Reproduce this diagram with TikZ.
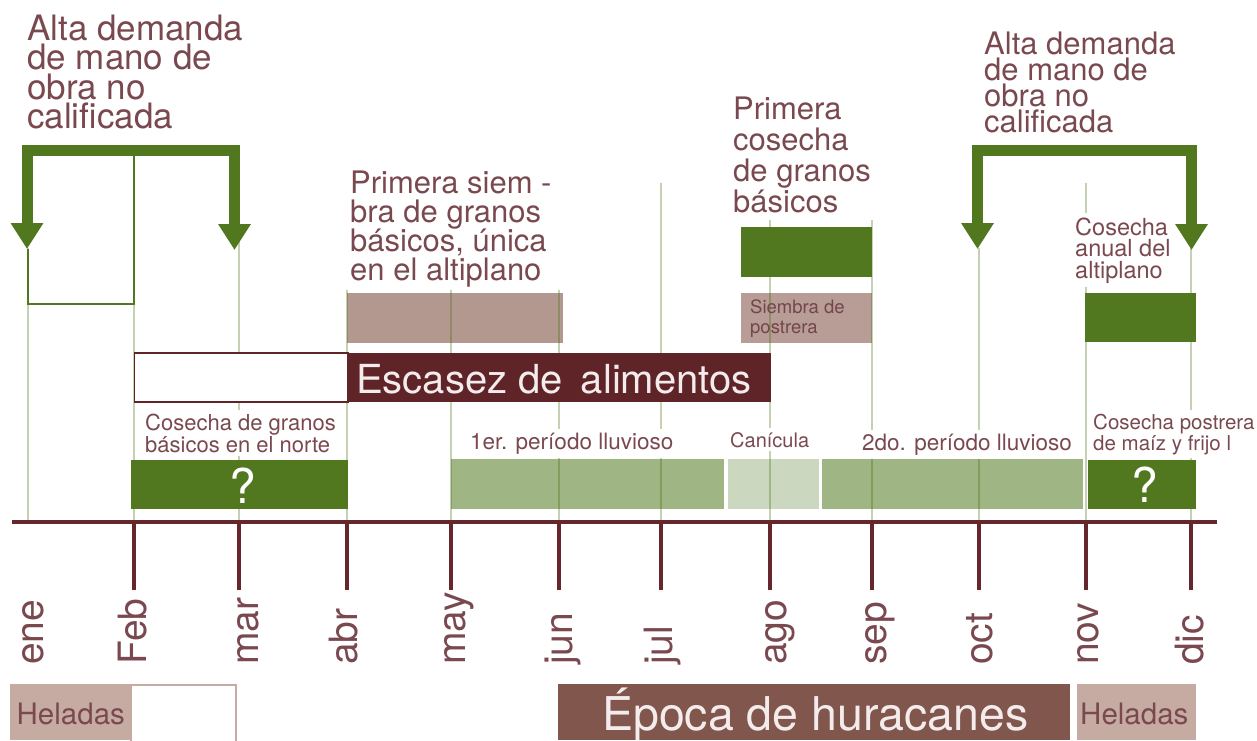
\documentclass[tikz,border=0pt]{standalone}
\usepackage{fontspec}
\setmainfont{TeX Gyre Heros}
\usetikzlibrary{arrows.meta}
\definecolor{dgreen}{HTML}{52781F}
\definecolor{lgreen}{HTML}{A0B584}
\definecolor{canic}{HTML}{CBD8BF}
\definecolor{gridc}{HTML}{3B6B02}
\definecolor{rosy}{HTML}{B39890}
\definecolor{maroonbox}{HTML}{5F2428}
\definecolor{axisc}{HTML}{65272C}
\definecolor{txt}{HTML}{7A4950}
\definecolor{hur}{HTML}{80564D}
\definecolor{hel}{HTML}{C6ABA3}
\definecolor{wtxt}{HTML}{F4ECEC}
\newcommand{\myfs}[2]{\fontsize{#1}{#2}\selectfont\lineskiplimit=-100pt\lineskip=0pt}
\begin{document}
\begin{tikzpicture}[x=1pt,y=-1pt,
  lbl/.style={inner sep=0pt, anchor=base west, align=left, text=txt},
  knock/.style={lbl, fill=white, inner xsep=1pt, inner ysep=4pt},
  gridline/.style={draw=gridc, draw opacity=0.3, line width=2pt},
  tickline/.style={draw=axisc, line width=3.5pt},
  month/.style={inner sep=0pt, anchor=base west, rotate=90, text=txt, font=\myfs{39}{39}},
  bigarrow/.style={draw=dgreen, line width=11pt, line join=miter,
    arrows={Triangle[width=31pt,length=26pt]-Triangle[width=31pt,length=26pt]}},
  qmark/.style={inner sep=0pt, anchor=base, text=white, font=\myfs{48}{48}}
]
\useasboundingbox (0,0) rectangle (1257,740);

% translucent bars
\fill[rosy] (347,293) rectangle (563,343);
\fill[rosy!95!white] (741,293) rectangle (872,343);
\fill[lgreen] (451,459) rectangle (724,509);
\fill[canic] (728,459) rectangle (819,509);
\fill[lgreen] (822,459) rectangle (1083,509);

% grid lines
\foreach \x/\ya in {28/248, 134/304, 239/183, 347/290, 451/290, 559/290, 661/183, 770/220, 872/220, 979/248, 1086/183, 1191/248}
  \draw[gridline] (\x,\ya) -- (\x,520);

% text with white knock-out (anchored at the baseline of the last line)
\node[knock, font=\myfs{22}{22}] (norte) at (144,452) {Cosecha de granos\\básicos en el norte};
\node[knock, font=\myfs{22.5}{22.5}] (lluv1) at (469,449) {1er. período lluvioso};
\node[knock, font=\myfs{20}{20}] (canicula) at (729,447) {Canícula};
\node[knock, font=\myfs{22.5}{22.5}] (lluv2) at (861,450) {2do. período lluvioso};
\node[knock, font=\myfs{20.5}{21}] (postrera) at (1092,450) {Cosecha postrera\\de maíz y frijo l};
\node[knock, font=\myfs{23.5}{21.5}] (anual) at (1074,278) {Cosecha\\anual del\\altiplano};

% opaque boxes
\fill[dgreen] (131,460) rectangle (348,509);
\fill[dgreen] (1088,460) rectangle (1196,509);
\fill[dgreen] (741,227) rectangle (872,277);
\fill[dgreen] (1085,293) rectangle (1196,342);
\filldraw[fill=white, draw=maroonbox, line width=1.5pt] (134.5,353) rectangle (348,402);
\fill[maroonbox] (348,353) rectangle (771,402);

\node[qmark] (q1) at (243,503) {?};
\node[qmark] (q2) at (1145,502) {?};
\node[lbl, text=wtxt, font=\myfs{40}{40}] (escasez) at (356,393) {Escasez de\hspace{0.45em}alimentos};
\node[lbl, text=txt!95!black, font=\myfs{18.5}{20}] (siembra) at (750,333) {Siembra de\\postrera};

% big texts
\node[lbl, font=\myfs{35}{29.5}] (demanda1) at (27,128.5) {Alta demanda\\de mano de\\obra no\\calificada};
\node[lbl, font=\myfs{31}{25.7}] (demanda2) at (984,132) {Alta demanda\\de mano de\\obra no\\calificada};
\node[lbl, font=\myfs{31}{29}] (siembra1) at (350,280) {Primera siem -\\bra de granos\\básicos, única\\en el altiplano};
\node[lbl, font=\myfs{31}{31}] (cosecha1) at (733,212) {Primera\\cosecha\\de granos\\básicos};

% green arrows
\coordinate (la) at (27,249);
\coordinate (lb) at (234.5,150.5);
\coordinate (lc) at (234.5,250);
\draw[bigarrow] (la) |- (lb) -- (lc);
\coordinate (ra) at (977.5,249);
\coordinate (rb) at (1191.5,150.5);
\coordinate (rc) at (1191.5,250);
\draw[bigarrow] (ra) |- (rb) -- (rc);
\coordinate (ba) at (27.5,249);
\coordinate (bb) at (134,304);
\coordinate (bc) at (134,156);
\draw[dgreen, line width=2pt] (ba) |- (bb) -- (bc);

% axis and ticks
\coordinate (axl) at (12,522);
\coordinate (axr) at (1217,522);
\draw[draw=axisc, line width=4pt] (axl) -- (axr);
\foreach \x in {134,239,347,451,559,661,770,872,979,1086,1191}
  \draw[tickline] (\x,522) -- (\x,590);

% month labels
\foreach \x/\m in {43/ene,146/Feb,258/mar,357/abr,465/may,572/jun,672/jul,786/ago,886/sep,992/oct,1098/nov,1203/dic}
  \node[month] (m\m) at (\x,665) {\m};

% bottom boxes
\fill[hel] (10,684) rectangle (130,740);
\draw[hel, line width=1.5pt] (130.75,684.75) rectangle (236,745);
\fill[hur] (558,684) rectangle (1070,740);
\fill[hel] (1077,684) rectangle (1196,740);
\node[lbl, font=\myfs{29.5}{29.5}] (hel1) at (16.5,724) {Heladas};
\node[lbl, font=\myfs{29.5}{29.5}] (hel2) at (1080,724) {Heladas};
\node[lbl, text=wtxt, font=\myfs{46.5}{46.5}] (huracanes) at (602,730) {Época de huracanes};
\end{tikzpicture}
\end{document}
